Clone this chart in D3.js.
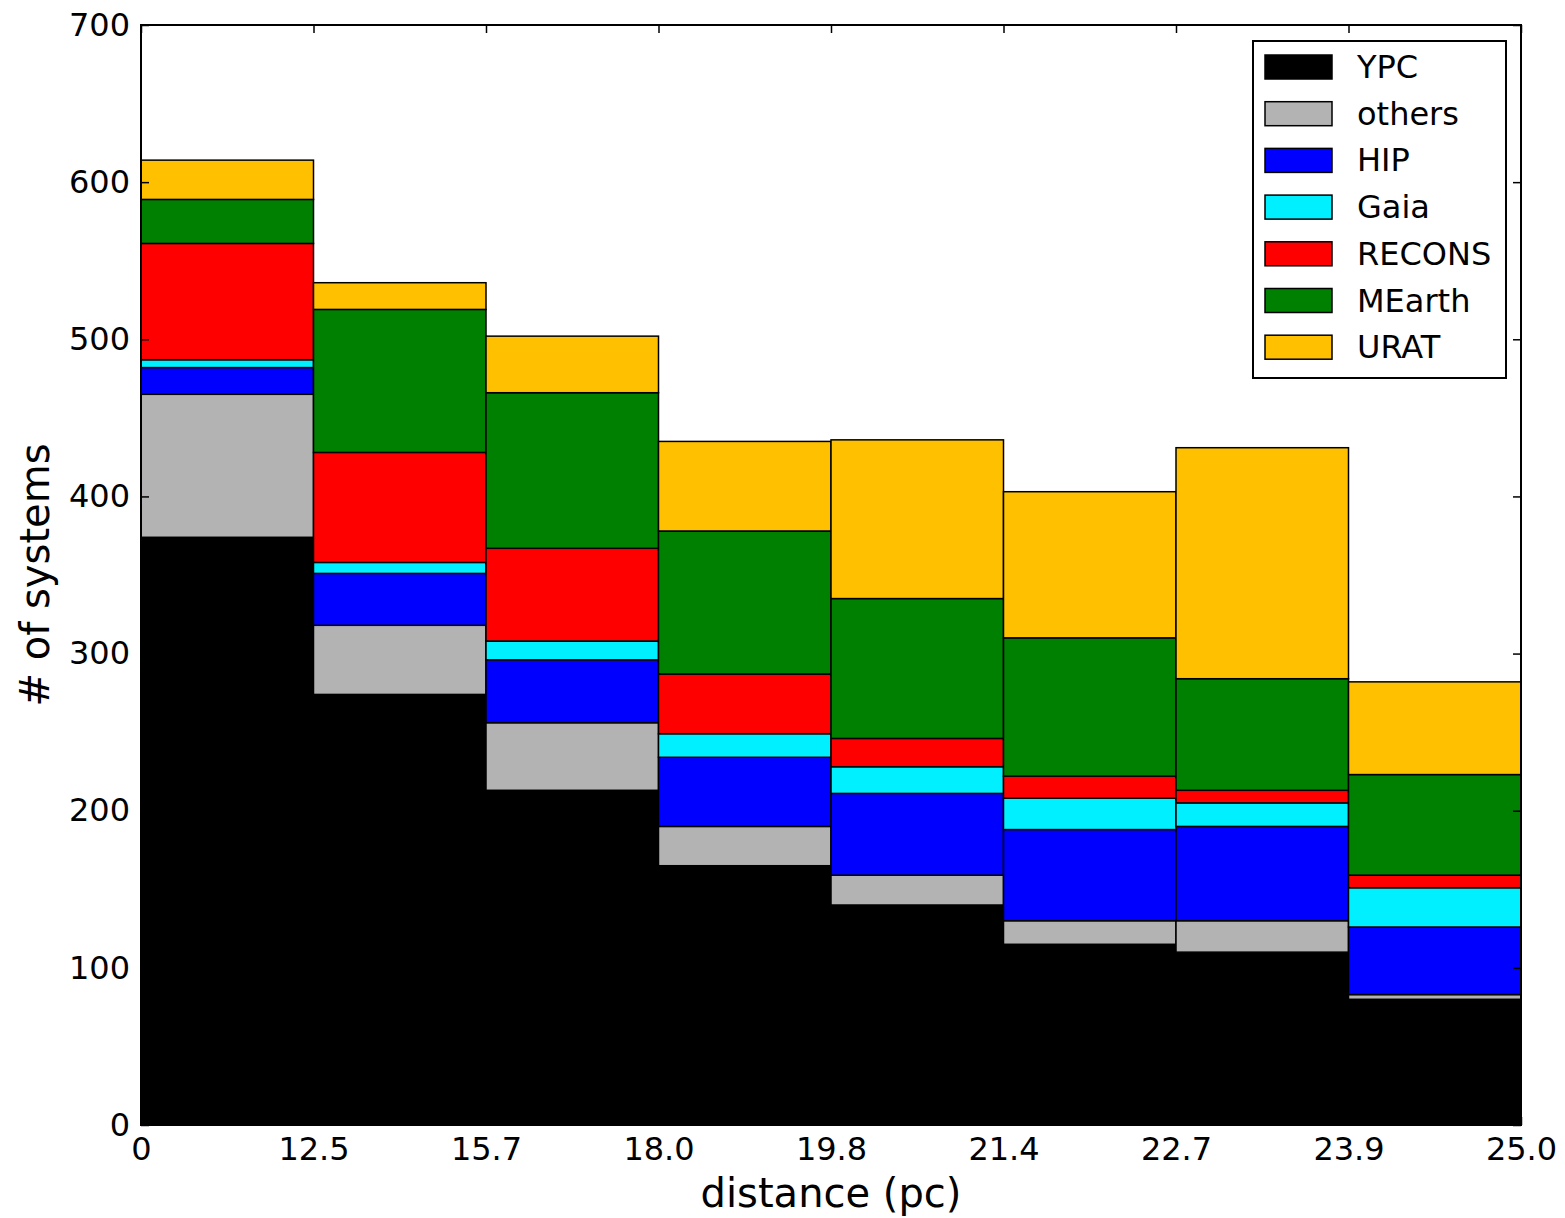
<!DOCTYPE html>
<html>
<head>
<meta charset="utf-8">
<script src="https://cdn.jsdelivr.net/npm/d3@7"></script>
<style>
  body { margin: 0; background: #fff; }
  text { font-family: "DejaVu Sans", sans-serif; }
</style>
</head>
<body>
<div id="chart"></div>
<script>
// bin edges shown on the x axis
const edgeLabels = ["0", "12.5", "15.7", "18.0", "19.8", "21.4", "22.7", "23.9", "25.0"];

// counts per bin, bottom to top of the stack
const ypc    = [374, 274, 213, 165, 140, 115, 110, 80];
const others = [91, 44, 43, 25, 19, 15, 20, 3];
const hip    = [17, 33, 40, 44, 52, 58, 60, 43];
const gaia   = [5, 7, 12, 15, 17, 20, 15, 25];
const recons = [74, 70, 59, 38, 18, 14, 8, 8];
const mearth = [28, 91, 99, 91, 89, 88, 71, 64];
const urat   = [25, 17, 36, 57, 101, 93, 147, 59];

const seriesNames = ["YPC", "others", "HIP", "Gaia", "RECONS", "MEarth", "URAT"];
const seriesColors = ["#000000", "#b3b3b3", "#0000ff", "#00f0ff", "#ff0000", "#008000", "#ffc000"];
const yTicks = [0, 100, 200, 300, 400, 500, 600, 700];

const svgWidth = 1565;
const svgHeight = 1218;
const margin = { top: 25, right: 44, bottom: 93, left: 141 };
const width = svgWidth - margin.left - margin.right;
const height = svgHeight - margin.top - margin.bottom;

const svg = d3.select("#chart")
  .append("svg")
  .attr("width", svgWidth)
  .attr("height", svgHeight);

const chartGroup = svg.append("g")
  .attr("transform", `translate(${margin.left}, ${margin.top})`);

// build table for d3.stack
const allSeries = [ypc, others, hip, gaia, recons, mearth, urat];
const table = ypc.map((_, i) => {
  const row = { bin: i };
  seriesNames.forEach((name, j) => { row[name] = allSeries[j][i]; });
  return row;
});

const stacked = d3.stack().keys(seriesNames)(table);

const xScale = d3.scaleLinear().domain([0, ypc.length]).range([0, width]);
const yScale = d3.scaleLinear().domain([0, 700]).range([height, 0]);

// bars
chartGroup.selectAll("g.layer")
  .data(stacked)
  .enter()
  .append("g")
  .attr("class", "layer")
  .attr("fill", (d, i) => seriesColors[i])
  .selectAll("rect")
  .data(d => d)
  .enter()
  .append("rect")
  .attr("x", d => xScale(d.data.bin))
  .attr("width", xScale(1) - xScale(0))
  .attr("y", d => yScale(d[1]))
  .attr("height", d => yScale(d[0]) - yScale(d[1]))
  .attr("stroke", "#000")
  .attr("stroke-width", 1.5);

// axes, ticks pointing inward
const tickIdx = d3.range(edgeLabels.length);

const bottomAxis = d3.axisBottom(xScale)
  .tickValues(tickIdx)
  .tickFormat(i => edgeLabels[i])
  .tickSize(-8)
  .tickPadding(12);

const leftAxis = d3.axisLeft(yScale)
  .tickValues(yTicks)
  .tickSize(-8)
  .tickPadding(11);

const xAxis = chartGroup.append("g")
  .attr("transform", `translate(0, ${height})`)
  .call(bottomAxis);

const yAxis = chartGroup.append("g")
  .call(leftAxis);

chartGroup.append("g")
  .call(d3.axisTop(xScale).tickValues(tickIdx).tickFormat("").tickSize(-8));

chartGroup.append("g")
  .attr("transform", `translate(${width}, 0)`)
  .call(d3.axisRight(yScale).tickValues(yTicks).tickFormat("").tickSize(-8));

chartGroup.selectAll(".domain").remove();
chartGroup.selectAll(".tick line").attr("stroke", "#000").attr("stroke-width", 1.5);
chartGroup.selectAll(".tick text")
  .attr("font-size", 32)
  .attr("font-family", "DejaVu Sans")
  .attr("fill", "#000");

// frame
chartGroup.append("rect")
  .attr("width", width)
  .attr("height", height)
  .attr("fill", "none")
  .attr("stroke", "#000")
  .attr("stroke-width", 2);

// axis labels
svg.append("text")
  .attr("x", margin.left + width / 2)
  .attr("y", 1207)
  .attr("text-anchor", "middle")
  .attr("font-size", 40)
  .text("distance (pc)");

svg.append("text")
  .attr("transform", `translate(49, ${margin.top + height / 2}) rotate(-90)`)
  .attr("text-anchor", "middle")
  .attr("font-size", 40)
  .text("# of systems");

// legend
const legend = svg.append("g").attr("transform", "translate(1253, 41)");

legend.append("rect")
  .attr("width", 253)
  .attr("height", 337)
  .attr("fill", "#fff")
  .attr("stroke", "#000")
  .attr("stroke-width", 2);

seriesNames.forEach((name, i) => {
  const row = legend.append("g").attr("transform", `translate(0, ${14 + i * 46.7})`);
  row.append("rect")
    .attr("x", 12)
    .attr("width", 67)
    .attr("height", 24)
    .attr("fill", seriesColors[i])
    .attr("stroke", "#000")
    .attr("stroke-width", 1.5);
  row.append("text")
    .attr("x", 104)
    .attr("y", 23)
    .attr("font-size", 32)
    .text(name);
});
</script>
</body>
</html>
